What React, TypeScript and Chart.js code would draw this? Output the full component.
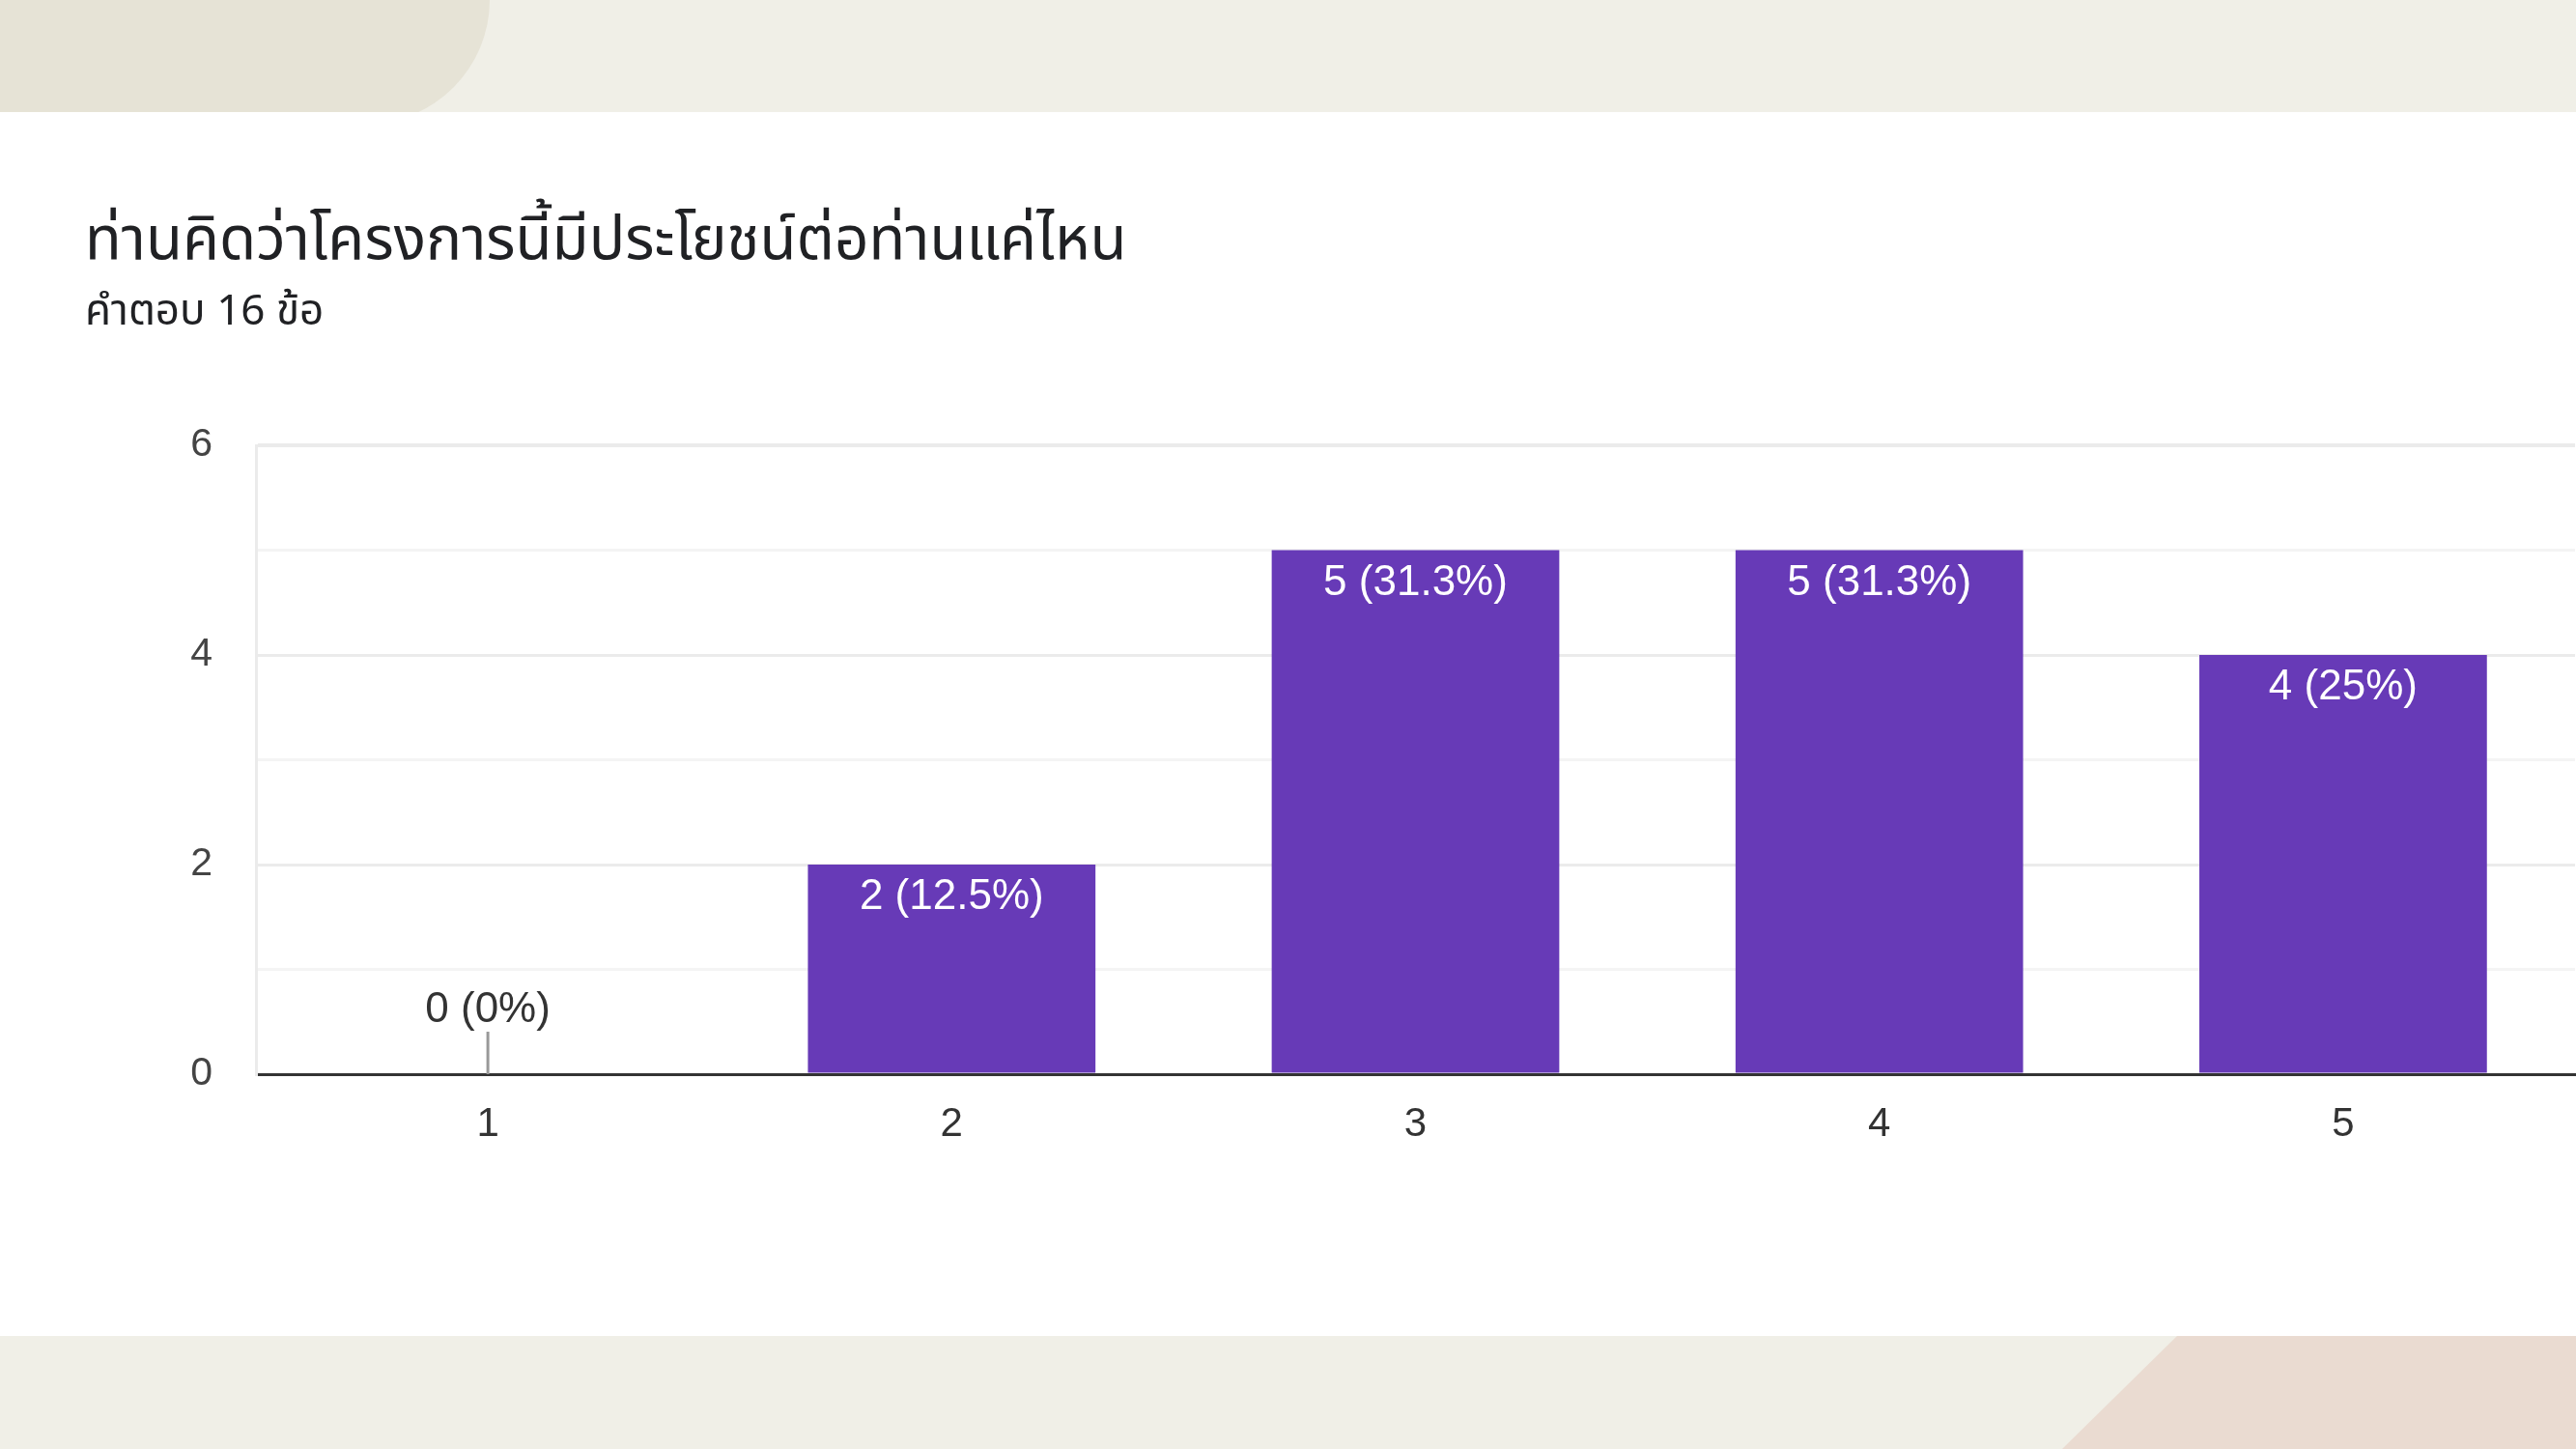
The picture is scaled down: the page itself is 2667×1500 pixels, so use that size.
import React, { useEffect, useRef } from "react";
import { Chart, registerables } from "chart.js";

Chart.register(...registerables);

const categories = ["1", "2", "3", "4", "5"];
const counts = [0, 2, 5, 5, 4];
const yTickValues = [0, 2, 4, 6];
const titleText = "ท่านคิดว่าโครงการนี้มีประโยชน์ต่อท่านแค่ไหน";
const subtitleText = "คำตอบ 16 ข้อ";

const W = 2667;
const H = 1500;
const PURPLE = "#673ab7";
const NUM_FONT = "'Liberation Sans', Arial, sans-serif";
const THAI_FONT = "'Noto Sans Thai', 'Noto Sans Thai Looped', 'Noto Sans', 'DejaVu Sans', sans-serif";

const total = counts.reduce((a, b) => a + b, 0);
const fmtLabel = (v: number) => `${v} (${Math.round((v / total) * 1000) / 10}%)`;

const backgroundPlugin = {
  id: "bgDeco",
  beforeDraw(chart: any) {
    const ctx = chart.ctx;
    ctx.save();
    ctx.fillStyle = "#ffffff";
    ctx.fillRect(0, 0, W, H);
    // top band
    ctx.fillStyle = "#f0efe7";
    ctx.fillRect(0, 0, W, 116);
    // top-left decoration
    ctx.save();
    ctx.beginPath();
    ctx.rect(0, 0, W, 116);
    ctx.clip();
    ctx.fillStyle = "#e6e3d6";
    ctx.beginPath();
    const R = 128;
    const cx = 507 - R;
    ctx.moveTo(0, 0);
    ctx.lineTo(cx, 0);
    ctx.arc(cx, 0, R, 0, Math.PI / 2, false);
    ctx.lineTo(0, R);
    ctx.closePath();
    ctx.fill();
    ctx.restore();
    // bottom band
    ctx.fillStyle = "#f0efe7";
    ctx.fillRect(0, 1383, W, H - 1383);
    ctx.fillStyle = "#eadbd1";
    ctx.beginPath();
    ctx.moveTo(2254, 1383);
    ctx.lineTo(W, 1383);
    ctx.lineTo(W, H);
    ctx.lineTo(2135, H);
    ctx.closePath();
    ctx.fill();
    // title
    ctx.fillStyle = "#202124";
    ctx.textAlign = "left";
    ctx.textBaseline = "alphabetic";
    ctx.font = `62px ${THAI_FONT}`;
    ctx.fillText(titleText, 88, 268);
    ctx.font = `44px ${THAI_FONT}`;
    ctx.fillText(subtitleText, 88, 336);
    ctx.restore();
  },
};

const valueLabelPlugin = {
  id: "valueLabels",
  afterDatasetsDraw(chart: any) {
    const ctx = chart.ctx;
    const meta = chart.getDatasetMeta(0);
    const data = chart.data.datasets[0].data as number[];
    ctx.save();
    ctx.font = `44px ${NUM_FONT}`;
    ctx.textAlign = "center";
    ctx.textBaseline = "middle";
    meta.data.forEach((bar: any, i: number) => {
      const v = data[i];
      const label = fmtLabel(v);
      if (v > 0) {
        ctx.fillStyle = "#ffffff";
        ctx.fillText(label, bar.x, bar.y + 34);
      } else {
        ctx.strokeStyle = "#999999";
        ctx.lineWidth = 3;
        ctx.beginPath();
        ctx.moveTo(bar.x, bar.y - 44);
        ctx.lineTo(bar.x, bar.y);
        ctx.stroke();
        ctx.fillStyle = "#333333";
        ctx.fillText(label, bar.x, bar.y - 66);
      }
    });
    ctx.restore();
  },
};

export default function App() {
  const canvasRef = useRef<HTMLCanvasElement | null>(null);

  useEffect(() => {
    const canvas = canvasRef.current;
    if (!canvas) return;
    const chart = new Chart(canvas, {
      type: "bar",
      data: {
        labels: categories,
        datasets: [
          {
            data: counts,
            backgroundColor: PURPLE,
            borderWidth: 0,
            barPercentage: 0.62,
            categoryPercentage: 1,
          },
        ],
      },
      options: {
        animation: false,
        responsive: false,
        devicePixelRatio: 1,
        layout: { padding: { top: 461, left: 0, right: 1, bottom: 0 } },
        plugins: {
          legend: { display: false },
          tooltip: { enabled: false },
          title: { display: false },
        },
        scales: {
          x: {
            grid: { display: false, drawTicks: false },
            border: { color: "#333333", width: 3 },
            ticks: {
              color: "#333333",
              font: { family: NUM_FONT, size: 42 },
              padding: 27,
            },
            afterFit: (s: any) => {
              s.height = H - 1112;
            },
          },
          y: {
            min: 0,
            max: 6,
            afterBuildTicks: (s: any) => {
              s.ticks = [0, 1, 2, 3, 4, 5, 6].map((v) => ({ value: v }));
            },
            ticks: {
              color: "#444444",
              font: { family: NUM_FONT, size: 41 },
              padding: 45,
              callback: (v: any) => (yTickValues.includes(Number(v)) ? String(v) : ""),
            },
            grid: {
              drawTicks: false,
              lineWidth: (c: any) => (c.tick && c.tick.value === 6 ? 4 : 3),
              color: (c: any) =>
                c.tick && c.tick.value % 2 === 0 ? "#ebebeb" : "#f4f4f4",
            },
            border: { color: "#ebebeb", width: 3 },
            afterFit: (s: any) => {
              s.width = 265;
            },
          },
        },
      },
      plugins: [backgroundPlugin, valueLabelPlugin],
    });
    return () => chart.destroy();
  }, []);

  return (
    <div style={{ position: "absolute", left: 0, top: 0, width: W, height: H }}>
      <canvas ref={canvasRef} width={W} height={H} style={{ width: W, height: H, display: "block" }} />
    </div>
  );
}
